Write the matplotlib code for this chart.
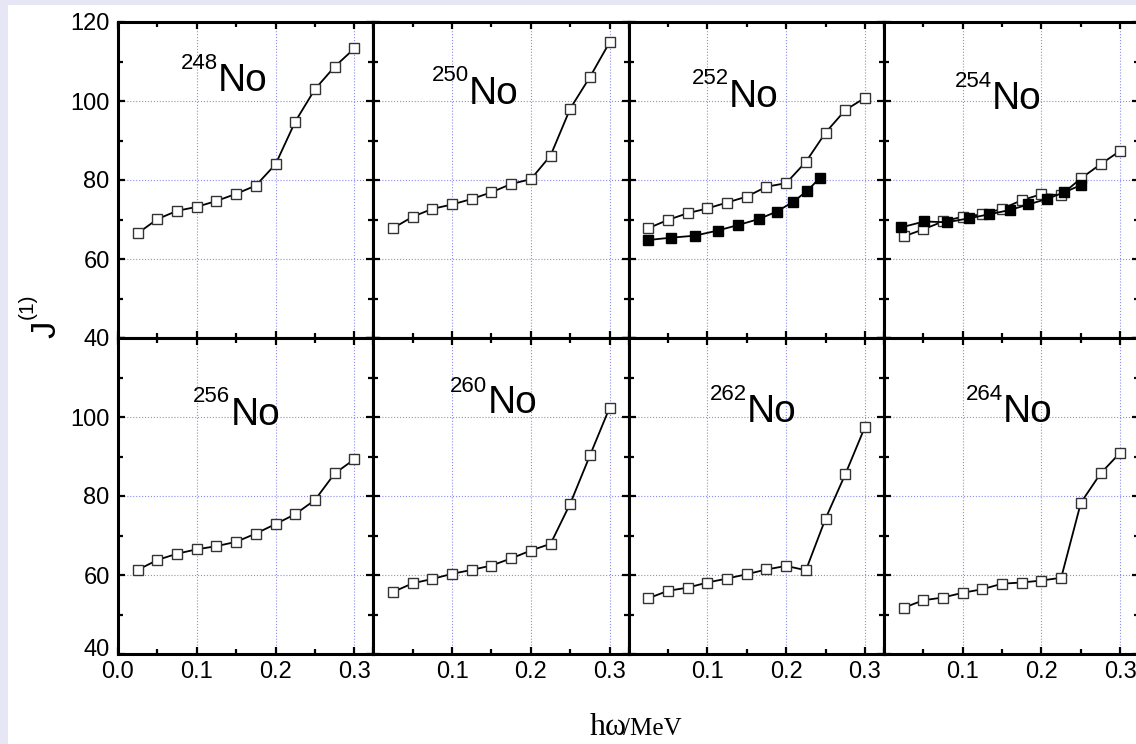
import matplotlib.pyplot as plt
from matplotlib.patches import Rectangle
from matplotlib.ticker import MultipleLocator
from matplotlib.transforms import ScaledTranslation
import numpy as np

# Data (J1 vs rotational frequency, MeV)
omega = [0.025, 0.05, 0.075, 0.1, 0.125, 0.15, 0.175, 0.2, 0.225, 0.25, 0.275, 0.3]

j_248 = [66.5, 70.1, 72.2, 73.2, 74.7, 76.5, 78.6, 84.0, 94.8, 103.0, 108.7, 113.3]
j_250 = [67.8, 70.7, 72.7, 73.8, 75.2, 76.9, 79.0, 80.2, 86.2, 98.1, 106.1, 114.9]
j_252 = [67.8, 69.9, 71.6, 72.8, 74.3, 75.8, 78.3, 79.2, 84.6, 92.0, 97.7, 100.8]
j_254 = [65.7, 67.5, 69.5, 70.7, 71.3, 72.7, 74.9, 76.4, 76.2, 80.4, 84.0, 87.4]
j_256 = [61.3, 63.8, 65.4, 66.5, 67.3, 68.4, 70.5, 72.9, 75.4, 79.0, 85.7, 89.3]
j_260 = [55.7, 57.9, 59.0, 60.3, 61.3, 62.4, 64.2, 66.2, 67.9, 78.1, 90.3, 102.4]
j_262 = [54.1, 56.0, 56.8, 58.1, 59.1, 60.2, 61.4, 62.3, 61.2, 74.3, 85.5, 97.5]
j_264 = [51.7, 53.6, 54.3, 55.5, 56.4, 57.8, 58.1, 58.6, 59.3, 78.3, 85.7, 91.0]

# experimental points (filled squares)
exp_omega_252 = [0.0245, 0.054, 0.084, 0.113, 0.139, 0.165, 0.188, 0.209, 0.227, 0.243]
exp_j_252 = [64.8, 65.4, 65.9, 67.2, 68.6, 70.1, 72.0, 74.5, 77.3, 80.6]
exp_omega_254 = [0.022, 0.051, 0.080, 0.108, 0.133, 0.160, 0.183, 0.207, 0.229, 0.250]
exp_j_254 = [68.0, 69.5, 69.3, 70.3, 71.3, 72.4, 73.8, 75.2, 76.9, 78.7]

masses = ["248", "250", "252", "254", "256", "260", "262", "264"]
calc_series = [j_248, j_250, j_252, j_254, j_256, j_260, j_262, j_264]
exp_series = {2: (exp_omega_252, exp_j_252), 3: (exp_omega_254, exp_j_254)}

# label positions in axes fraction: (x of "No", baseline of "No", baseline of mass)
label_pos = [
    (0.392, 0.781, 0.851), (0.373, 0.740, 0.813), (0.392, 0.730, 0.803), (0.424, 0.724, 0.794),
    (0.440, 0.726, 0.798), (0.447, 0.763, 0.830), (0.463, 0.735, 0.804), (0.467, 0.735, 0.804),
]

W, H = 1136, 744
fig = plt.figure(figsize=(W / 100, H / 100), dpi=100)
fig.patch.set_facecolor('#e6e6f4')
fig.patches.append(Rectangle((8 / W, 0), 1, 1 - 5 / H, transform=fig.transFigure,
                             facecolor='white', edgecolor='none', zorder=-10))

font = 'Liberation Sans'
left, pw = 118 / W, 255.3 / W
tops = [22, 338]
ph_px = 316

for k in range(8):
    row, col = divmod(k, 4)
    ax = fig.add_axes([left + col * pw, 1 - (tops[row] + ph_px) / H, pw, ph_px / H])
    ax.set_xlim(0, 0.324)
    ax.set_ylim(40, 120)

    ax.grid(True, which='major', color='#8c8cf0', linestyle=':', linewidth=0.8)
    ax.set_axisbelow(True)

    ax.plot(omega, calc_series[k], '-s', color='black', lw=1.3, ms=7,
            mfc='white', mec='#333333', mew=1.0, zorder=3)
    if k in exp_series:
        ex, ey = exp_series[k]
        ax.plot(ex, ey, '-s', color='black', lw=1.3, ms=7.5, mfc='black', mec='black', zorder=4)

    # panel label with superscript mass number
    lx, ly, sy = label_pos[k]
    ax.text(lx, ly, 'No', transform=ax.transAxes, fontsize=28, family=font,
            ha='left', va='baseline')
    ax.text(lx, sy, masses[k], transform=ax.transAxes, fontsize=16, family=font,
            ha='right', va='baseline')

    ax.xaxis.set_major_locator(MultipleLocator(0.1))
    ax.xaxis.set_minor_locator(MultipleLocator(0.05))
    ax.yaxis.set_major_locator(MultipleLocator(20))
    ax.yaxis.set_minor_locator(MultipleLocator(10))
    ax.tick_params(which='both', direction='in', top=True, right=True, width=1.6,
                   labelsize=17, labelfontfamily=font)
    ax.tick_params(which='major', length=5)
    ax.tick_params(which='minor', length=3.5)
    ax.tick_params(axis='y', pad=6)
    ax.tick_params(axis='x', pad=5)
    for s in ax.spines.values():
        s.set_linewidth(2.2)

    # tick labels only on outer panels
    if col == 0:
        ax.set_yticks([40, 60, 80, 100, 120])
        ax.set_yticklabels(['40', '60', '80', '100', '120'] if row == 0 else ['40', '60', '80', '100', ''])
    else:
        ax.set_yticklabels([])
    if row == 1:
        ax.set_xticks([0.0, 0.1, 0.2, 0.3])
        ax.set_xticklabels(['0.0', '0.1', '0.2', '0.3'] if col == 0 else ['', '0.1', '0.2', '0.3'])
    else:
        ax.set_xticklabels([])

    # bottom-left "40" sits a little higher, clear of "0.0"
    if row == 1 and col == 0:
        lab = ax.get_yticklabels()[0]
        lab.set_transform(lab.get_transform() + ScaledTranslation(0, 5 / 72, fig.dpi_scale_trans))

# y title: J with superscript (1), written bottom to top
fig.text(55 / W, 1 - 338 / H, 'J', rotation=90, rotation_mode='anchor', fontsize=25,
         family=font, ha='left', va='baseline')
fig.text(33 / W, 1 - 319 / H, '(1)', rotation=90, rotation_mode='anchor', fontsize=15,
         family=font, ha='left', va='baseline')

# x title
fig.text(590 / W, 1 - 735 / H, 'hω', fontsize=23, family='Liberation Serif',
         ha='left', va='baseline')
fig.text(623 / W, 1 - 735 / H, '/MeV', fontsize=18, family='Liberation Serif',
         ha='left', va='baseline')

fig.savefig('out.png', dpi=100, facecolor=fig.get_facecolor())
